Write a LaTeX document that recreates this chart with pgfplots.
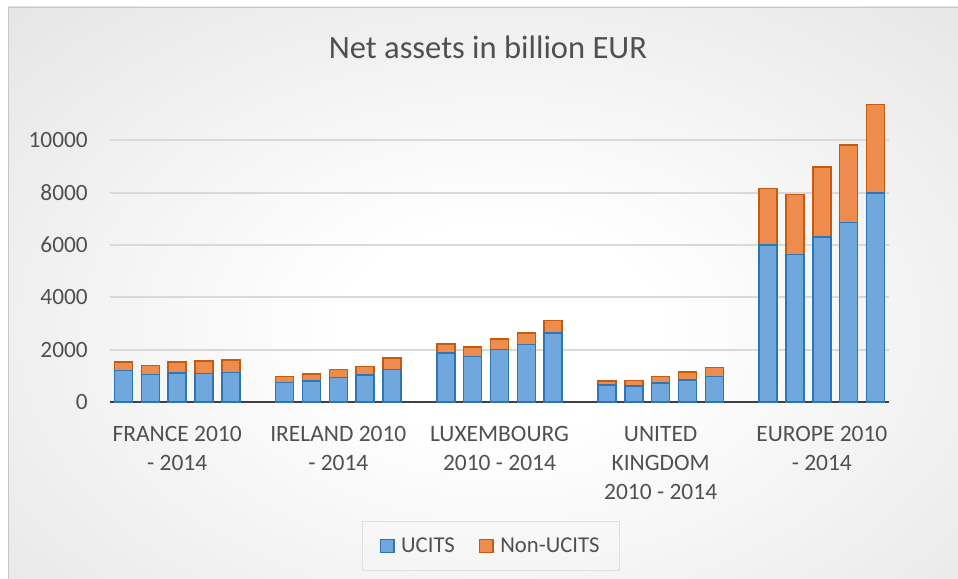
\documentclass[border=0pt]{standalone}
\usepackage{pgfplots}
\pgfplotsset{compat=1.18}
\usepackage{fontspec}
\setmainfont{Carlito}
\definecolor{txt}{HTML}{505050}
\definecolor{ufill}{HTML}{70A7DC}
\definecolor{uedge}{HTML}{2E75B6}
\definecolor{nfill}{HTML}{EE8C4E}
\definecolor{nedge}{HTML}{C55A11}
\definecolor{gridc}{HTML}{D9D9D9}
\pgfdeclareradialshading{bgshade}{\pgfpoint{0bp}{0bp}}{color(0bp)=(white); color(8bp)=(white); color(71bp)=(black!23)}
\begin{document}
\begin{tikzpicture}
\useasboundingbox (0pt,0pt) rectangle (718.5pt,434.25pt);
\begin{scope}
\clip (6pt,0pt) rectangle (718.5pt,429pt);
\shade[shading=bgshade] (6pt,-55.5pt) rectangle (744pt,429pt);
\end{scope}
\draw[black!22, line width=0.6pt] (6pt,0pt) -- (6pt,429pt) -- (718.5pt,429pt);
\node[anchor=base, text=txt, font=\fontsize{24.4}{29}\selectfont] at (366pt,390pt) {Net assets in billion EUR};
\begin{axis}[
  scale only axis,
  width=584.25pt, height=235.5pt,
  anchor=south west, at={(82.5pt,132.75pt)},
  ybar stacked, bar width=13.5pt,
  xmin=-0.5, xmax=28.5,
  ymin=0, ymax=12000,
  ytick={0,2000,4000,6000,8000,10000},
  xtick={2,8,14,20,26},
  xticklabels={{FRANCE 2010\\- 2014},{IRELAND 2010\\- 2014},{LUXEMBOURG\\2010 - 2014},{UNITED\\KINGDOM\\2010 - 2014},{EUROPE 2010\\- 2014}},
  xticklabel style={align=center, text=txt, font=\fontsize{17.6}{21.7}\selectfont, inner sep=0pt, yshift=-18pt},
  yticklabel style={text=txt, font=\fontsize{17.5}{21}\selectfont, inner sep=0pt, xshift=-16.5pt},
  /pgf/number format/assume math mode=true,
  scaled y ticks=false,
  yticklabel={\pgfmathprintnumber[fixed, 1000 sep={}]{\tick}},
  major tick length=0pt,
  ymajorgrids,
  grid style={gridc, line width=1.3pt},
  axis x line*=bottom,
  axis y line*=left,
  x axis line style={draw=black!75, line width=2.2pt},
  y axis line style={draw=none},
  legend columns=2,
  legend style={at={(0.489,-0.4586)}, anchor=center, draw=black!12, fill=none, text=txt,
    font=\fontsize{17}{20}\selectfont, inner xsep=13pt, inner ysep=10pt,
    /tikz/every even column/.append style={column sep=16pt}},
  legend image code/.code={\draw[#1] (0pt,-4.8pt) rectangle (10pt,4.8pt); \path (13pt,0pt);},
]
\addplot[fill=ufill, draw=uedge, line width=1.1pt] coordinates {
(0,1200) (1,1060) (2,1100) (3,1090) (4,1130)
(6,745) (7,795) (8,930) (9,1025) (10,1235)
(12,1870) (13,1745) (14,2000) (15,2190) (16,2635)
(18,650) (19,620) (20,725) (21,840) (22,965)
(24,6000) (25,5640) (26,6300) (27,6860) (28,7980)};
\addplot[fill=nfill, draw=nedge, line width=1.1pt] coordinates {
(0,335) (1,345) (2,435) (3,470) (4,470)
(6,230) (7,283) (8,310) (9,330) (10,455)
(12,345) (13,355) (14,405) (15,445) (16,470)
(18,150) (19,195) (20,255) (21,305) (22,355)
(24,2163) (25,2294) (26,2677) (27,2957) (28,3390)};
\legend{UCITS, Non-UCITS}
\end{axis}
\end{tikzpicture}
\end{document}
